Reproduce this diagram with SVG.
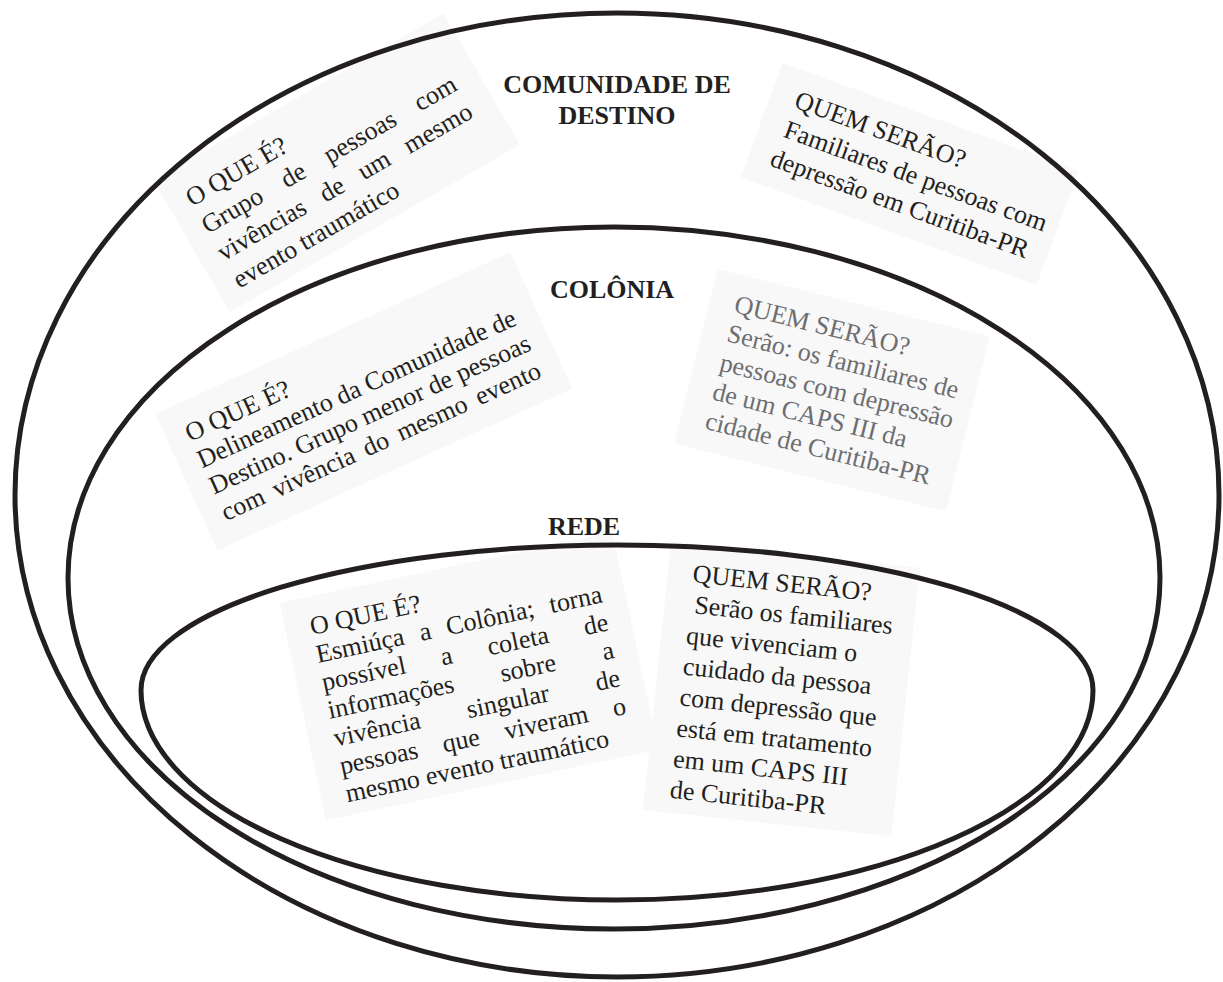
<svg xmlns="http://www.w3.org/2000/svg" width="1223" height="982" viewBox="0 0 1223 982">
<style>
.ring{fill:none;stroke:#231f20;stroke-width:5}
.box{fill:#f8f8f8}
.t{font-family:"Liberation Serif","Times New Roman",serif;font-size:26px;fill:#231f20}
.g{fill:#6d6e71}
.h{font-family:"Liberation Serif","Times New Roman",serif;font-size:26px;font-weight:bold;fill:#231f20;text-anchor:middle}
</style>
<rect width="1223" height="982" fill="#ffffff"/>
<g id="boxes">
<rect class="box" transform="translate(192,207) rotate(-30)" x="-20" y="-42" width="335" height="152"/>
<rect class="box" transform="translate(793,107) rotate(20)" x="-25" y="-38" width="315" height="122"/>
<rect class="box" transform="translate(190,442) rotate(-24.5)" x="-20" y="-40" width="390" height="150"/>
<rect class="box" transform="translate(733,312) rotate(14)" x="-25" y="-38" width="280" height="180"/>
<rect class="box" transform="translate(312,635) rotate(-12)" x="-25" y="-38" width="340" height="222"/>
<rect class="box" transform="translate(692,582) rotate(6)" x="-25" y="-38" width="250" height="270"/>
</g>
<g id="connectors"></g>
<g id="comunidade">
<ellipse class="ring" cx="617" cy="495" rx="602" ry="482"/>
<text class="h" x="617" y="93">COMUNIDADE DE</text>
<text class="h" x="617" y="124">DESTINO</text>
</g>
<g id="colonia">
<ellipse class="ring" cx="614" cy="578" rx="546" ry="351"/>
<text class="h" x="612" y="298">COLÔNIA</text>
</g>
<g id="rede">
<path class="ring" d="M141,690 A476,145 0 0 1 1093,690 A476,210 0 0 1 141,690 Z"/>
<text class="h" x="584" y="535">REDE</text>
</g>
<g id="comunidade-oque" transform="translate(192,207) rotate(-30)">
<text class="t" x="0" y="0">O QUE É?</text>
<text class="t" x="0" y="31.5" word-spacing="18.4">Grupo de pessoas com</text>
<text class="t" x="0" y="63" word-spacing="13.1">vivências de um mesmo</text>
<text class="t" x="0" y="94.5">evento traumático</text>
</g>
<g id="comunidade-quem" transform="translate(793,107) rotate(20)">
<text class="t" x="0" y="0">QUEM SERÃO?</text>
<text class="t" x="0" y="31.5">Familiares de pessoas com</text>
<text class="t" x="-3" y="63">depressão em Curitiba-PR</text>
</g>
<g id="colonia-oque" transform="translate(190,442) rotate(-24.5)">
<text class="t" x="0" y="0">O QUE É?</text>
<text class="t" x="0" y="29">Delineamento da Comunidade de</text>
<text class="t" x="0" y="58">Destino. Grupo menor de pessoas</text>
<text class="t" x="0" y="87" word-spacing="4.7">com vivência do mesmo evento</text>
</g>
<g id="colonia-quem" transform="translate(733,312) rotate(14)">
<text class="t g" x="0" y="0">QUEM SERÃO?</text>
<text class="t g" x="0" y="30">Serão: os familiares de</text>
<text class="t g" x="0" y="60">pessoas com depressão</text>
<text class="t g" x="0" y="90">de um CAPS III da</text>
<text class="t g" x="0" y="120">cidade de Curitiba-PR</text>
</g>
<g id="rede-oque" transform="translate(312,635) rotate(-12)">
<text class="t" x="0" y="0">O QUE É?</text>
<text class="t" x="0" y="28.5" word-spacing="9.5">Esmiúça a Colônia; torna</text>
<text class="t" x="0" y="57" word-spacing="29.7">possível a coleta de</text>
<text class="t" x="0" y="85.5" word-spacing="41.3">informações sobre a</text>
<text class="t" x="0" y="114" word-spacing="41.3">vivência singular de</text>
<text class="t" x="0" y="142.5" word-spacing="19.1">pessoas que viveram o</text>
<text class="t" x="0" y="171">mesmo evento traumático</text>
</g>
<g id="rede-quem" transform="translate(692,582) rotate(6)">
<text class="t" x="0" y="0">QUEM SERÃO?</text>
<text class="t" x="5" y="31">Serão os familiares</text>
<text class="t" x="0" y="62">que vivenciam o</text>
<text class="t" x="0" y="93">cuidado da pessoa</text>
<text class="t" x="0" y="124">com depressão que</text>
<text class="t" x="0" y="155">está em tratamento</text>
<text class="t" x="0" y="186">em um CAPS III</text>
<text class="t" x="0" y="217">de Curitiba-PR</text>
</g>
</svg>
